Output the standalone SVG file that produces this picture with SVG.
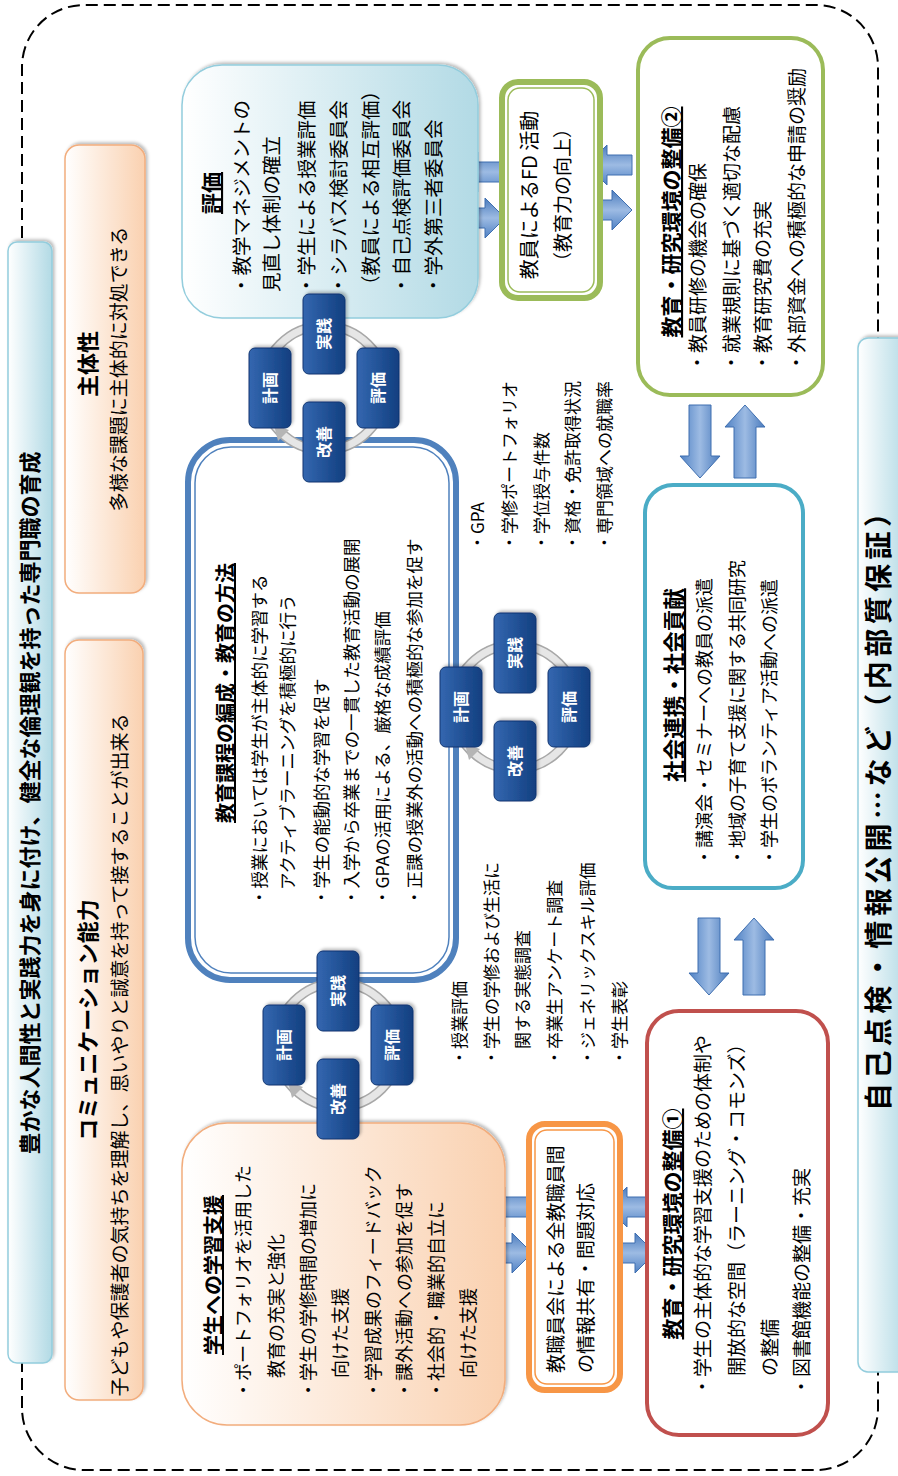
<svg xmlns="http://www.w3.org/2000/svg" width="898" height="1476" viewBox="0 0 898 1476">
  <defs>
    <linearGradient id="gPeach" x1="0" y1="0" x2="0" y2="1">
      <stop offset="0" stop-color="#ffffff"/>
      <stop offset="1" stop-color="#fad1b0"/>
    </linearGradient>
    <linearGradient id="gAqua" x1="0" y1="0" x2="0" y2="1">
      <stop offset="0" stop-color="#ffffff"/>
      <stop offset="1" stop-color="#b2dae5"/>
    </linearGradient>
    <linearGradient id="gArrowV" x1="0" y1="0" x2="1" y2="0">
      <stop offset="0" stop-color="#4f81c4"/>
      <stop offset="0.5" stop-color="#9dbbe3"/>
      <stop offset="1" stop-color="#4a7bbd"/>
    </linearGradient>
    <linearGradient id="gArrowH" x1="0" y1="0" x2="0" y2="1">
      <stop offset="0" stop-color="#4f81c4"/>
      <stop offset="0.5" stop-color="#9dbbe3"/>
      <stop offset="1" stop-color="#4a7bbd"/>
    </linearGradient>
    <linearGradient id="gTile" x1="0" y1="0" x2="0" y2="1">
      <stop offset="0" stop-color="#3467b0"/>
      <stop offset="1" stop-color="#123f80"/>
    </linearGradient>
    <filter id="soft" x="-10%" y="-10%" width="130%" height="130%">
      <feDropShadow dx="2" dy="2" stdDeviation="1.5" flood-color="#000" flood-opacity="0.25"/>
    </filter>
    <g id="cycle">
      <circle r="62" fill="none" stroke="#a8a8a8" stroke-width="10"/>
      <circle r="62" fill="none" stroke="#e6e6e6" stroke-width="7"/>
      <polygon points="-37,-50 -42,-35 -53,-46" fill="#b5b5b5"/>
      <g filter="url(#soft)">
        <rect x="-40" y="-75" width="80" height="42" rx="6" class="tile"/>
        <rect x="14" y="-21" width="80" height="42" rx="6" class="tile"/>
        <rect x="-40" y="33" width="80" height="42" rx="6" class="tile"/>
        <rect x="-94" y="-21" width="80" height="42" rx="6" class="tile"/>
      </g>
      <text x="0" y="-48" class="tt">計画</text>
      <text x="54" y="6" class="tt">実践</text>
      <text x="0" y="60" class="tt">評価</text>
      <text x="-54" y="6" class="tt">改善</text>
    </g>
  </defs>
  <style>
    text { font-family: 'Noto Sans CJK JP', 'Noto Sans', sans-serif; fill: #000; }
    .h { font-weight: bold; text-decoration: underline; }
    .b { font-weight: bold; }
    .tile { fill: url(#gTile); stroke: #0e3470; stroke-width: 1; }
    .tt { font-size: 16px; font-weight: bold; fill: #ffffff; text-anchor: middle; }
    .peach { fill: url(#gPeach); stroke: #f2ad7d; stroke-width: 1.5; }
    .aqua { fill: url(#gAqua); stroke: #93cddd; stroke-width: 1.5; }
    .av { fill: url(#gArrowV); stroke: #3f6fb0; stroke-width: 1; }
    .ah { fill: url(#gArrowH); stroke: #3f6fb0; stroke-width: 1; }
    .mid { text-anchor: middle; }
  </style>

  <!-- whole chart is laid out landscape and turned a quarter turn -->
  <g transform="translate(0,1476) rotate(-90)">
    <rect id="frame" x="6" y="22" width="1465" height="856" rx="62" fill="none" stroke="#000" stroke-width="2" stroke-dasharray="12 6"/>

    <g id="goal">
      <rect x="113" y="8" width="1121" height="44" rx="9" class="aqua" filter="url(#soft)"/>
      <text x="673" y="38" class="b mid" font-size="22">豊かな人間性と実践力を身に付け、健全な倫理観を持った専門職の育成</text>
    </g>

    <g id="communication">
      <rect x="76" y="65" width="760" height="78" rx="14" class="peach" filter="url(#soft)"/>
      <text x="456" y="96" class="b mid" font-size="22">コミュニケーション能力</text>
      <text x="421" y="127" class="mid" font-size="19">子どもや保護者の気持ちを理解し、思いやりと誠意を持って接することが出来る</text>
    </g>

    <g id="autonomy">
      <rect x="883" y="65" width="448" height="80" rx="14" class="peach" filter="url(#soft)"/>
      <text x="1112" y="96" class="b mid" font-size="22">主体性</text>
      <text x="1107" y="126" class="mid" font-size="19">多様な課題に主体的に対処できる</text>
    </g>

    <g id="connectors">
      <path class="av" d="M269 485 L289 505 L279 505 L279 532 L259 532 L259 505 L249 505 Z"/>
      <path class="av" d="M223 532 L243 512 L233 512 L233 485 L213 485 L213 512 L203 512 Z"/>
      <path class="av" d="M269 607 L289 627 L279 627 L279 655 L259 655 L259 627 L249 627 Z"/>
      <path class="av" d="M223 655 L243 635 L233 635 L233 607 L213 607 L213 635 L203 635 Z"/>
      <path class="av" d="M1304 458 L1324 478 L1314 478 L1314 505 L1294 505 L1294 478 L1284 478 Z"/>
      <path class="av" d="M1258 505 L1278 485 L1268 485 L1268 458 L1248 458 L1248 485 L1238 485 Z"/>
      <path class="av" d="M1311 587 L1331 607 L1321 607 L1321 632 L1301 632 L1301 607 L1291 607 Z"/>
      <path class="av" d="M1266 632 L1286 612 L1276 612 L1276 587 L1256 587 L1256 612 L1246 612 Z"/>
      <path class="ah" d="M998 700 L1020 680 L1020 689 L1071 689 L1071 711 L1020 711 L1020 720 Z"/>
      <path class="ah" d="M1071 745 L1049 725 L1049 734 L998 734 L998 756 L1049 756 L1049 765 Z"/>
      <path class="ah" d="M481 709 L503 689 L503 698 L558 698 L558 720 L503 720 L503 729 Z"/>
      <path class="ah" d="M558 754 L536 734 L536 743 L481 743 L481 765 L536 765 L536 774 Z"/>
    </g>

    <g id="learning-support">
      <rect x="51" y="182" width="302" height="323" rx="45" class="peach" filter="url(#soft)"/>
      <text x="121" y="221" class="h" font-size="20">学生への学習支援</text>
      <g font-size="18">
        <text x="77" y="250">・ポートフォリオを活用した</text>
        <text x="98" y="283">教育の充実と強化</text>
        <text x="77" y="315">・学生の学修時間の増加に</text>
        <text x="98" y="347">向けた支援</text>
        <text x="77" y="380">・学習成果のフィードバック</text>
        <text x="77" y="411">・課外活動への参加を促す</text>
        <text x="77" y="443">・社会的・職業的自立に</text>
        <text x="98" y="475">向けた支援</text>
      </g>
    </g>

    <g id="staff-meeting">
      <rect x="86" y="529" width="266" height="91" rx="16" fill="#fff" stroke="#f79646" stroke-width="6"/>
      <rect x="92" y="535" width="254" height="79" rx="12" fill="none" stroke="#f79646" stroke-width="1.5"/>
      <text x="103" y="563" font-size="19">教職員会による全教職員間</text>
      <text x="103" y="593" font-size="19">の情報共有・問題対応</text>
    </g>

    <g id="environment-1">
      <rect x="41" y="647" width="424" height="181" rx="32" fill="#fff" stroke="#c0504d" stroke-width="4"/>
      <text x="252" y="680" class="h mid" font-size="21">教育・研究環境の整備①</text>
      <g font-size="19">
        <text x="80" y="710">・学生の主体的な学習支援のための体制や</text>
        <text x="100" y="744">開放的な空間（ラーニング・コモンズ）</text>
        <text x="100" y="777">の整備</text>
        <text x="80" y="809">・図書館機能の整備・充実</text>
      </g>
    </g>

    <g id="survey-list" font-size="17">
      <text x="410" y="466">・授業評価</text>
      <text x="410" y="498">・学生の学修および生活に</text>
      <text x="427" y="529">関する実態調査</text>
      <text x="410" y="561">・卒業生アンケート調査</text>
      <text x="410" y="594">・ジェネリックスキル評価</text>
      <text x="410" y="626">・学生表彰</text>
    </g>

    <g id="curriculum">
      <rect x="496" y="188" width="540" height="268" rx="42" fill="#fff" stroke="#4f81bd" stroke-width="6"/>
      <rect x="503" y="195" width="526" height="254" rx="36" fill="none" stroke="#4f81bd" stroke-width="1.5"/>
      <text x="653" y="233" class="h" font-size="20">教育課程の編成・教育の方法</text>
      <g font-size="17.5">
        <text x="570" y="266">・授業においては学生が主体的に学習する</text>
        <text x="586" y="294">アクティブラーニングを積極的に行う</text>
        <text x="570" y="328">・学生の能動的な学習を促す</text>
        <text x="570" y="358">・入学から卒業までの一貫した教育活動の展開</text>
        <text x="570" y="389">・GPAの活用による、厳格な成績評価</text>
        <text x="570" y="421">・正課の授業外の活動への積極的な参加を促す</text>
      </g>
    </g>

    <g id="outcome-list" font-size="17">
      <text x="925" y="484">・GPA</text>
      <text x="925" y="516">・学修ポートフォリオ</text>
      <text x="925" y="548">・学位授与件数</text>
      <text x="925" y="579">・資格・免許取得状況</text>
      <text x="925" y="611">・専門領域への就職率</text>
    </g>

    <g id="social">
      <rect x="588" y="645" width="403" height="158" rx="28" fill="#fff" stroke="#4bacc6" stroke-width="4"/>
      <text x="791" y="682" class="h mid" font-size="21.5">社会連携・社会貢献</text>
      <g font-size="18">
        <text x="610" y="711">・講演会・セミナーへの教員の派遣</text>
        <text x="610" y="744">・地域の子育て支援に関する共同研究</text>
        <text x="610" y="776">・学生のボランティア活動への派遣</text>
      </g>
    </g>

    <g id="evaluation">
      <rect x="1158" y="182" width="253" height="296" rx="40" class="aqua" filter="url(#soft)"/>
      <text x="1283" y="219" class="h mid" font-size="21">評価</text>
      <g font-size="19.5">
        <text x="1181" y="249">・教学マネジメントの</text>
        <text x="1184" y="279">見直し体制の確立</text>
        <text x="1181" y="314">・学生による授業評価</text>
        <text x="1181" y="346">・シラバス検討委員会</text>
        <text x="1181" y="378">（教員による相互評価）</text>
        <text x="1181" y="409">・自己点検評価委員会</text>
        <text x="1181" y="441">・学外第三者委員会</text>
      </g>
    </g>

    <g id="fd">
      <rect x="1178" y="502" width="216" height="98" rx="16" fill="#fff" stroke="#9bbb59" stroke-width="6"/>
      <rect x="1184" y="508" width="204" height="86" rx="12" fill="none" stroke="#9bbb59" stroke-width="1.5"/>
      <text x="1281" y="537" class="mid" font-size="20">教員によるFD 活動</text>
      <text x="1281" y="570" class="mid" font-size="19">（教育力の向上）</text>
    </g>

    <g id="environment-2">
      <rect x="1081" y="638" width="357" height="185" rx="32" fill="#fff" stroke="#9bbb59" stroke-width="4"/>
      <text x="1254" y="679" class="h mid" font-size="21">教育・研究環境の整備②</text>
      <g font-size="19">
        <text x="1104" y="705">・教員研修の機会の確保</text>
        <text x="1104" y="739">・就業規則に基づく適切な配慮</text>
        <text x="1104" y="770">・教育研究費の充実</text>
        <text x="1104" y="804">・外部資金への積極的な申請の奨励</text>
      </g>
    </g>

    <g id="pdca-1"><use href="#cycle" transform="translate(431,338)"/></g>
    <g id="pdca-2"><use href="#cycle" transform="translate(1088,324)"/></g>
    <g id="pdca-3"><use href="#cycle" transform="translate(769,515)"/></g>

    <g id="quality-assurance">
      <rect x="104" y="858" width="1034" height="50" rx="10" class="aqua" filter="url(#soft)"/>
      <text x="671" y="889" class="b mid" font-size="28" textLength="612" lengthAdjust="spacing">自己点検・情報公開…など（内部質保証）</text>
    </g>
  </g>
</svg>
